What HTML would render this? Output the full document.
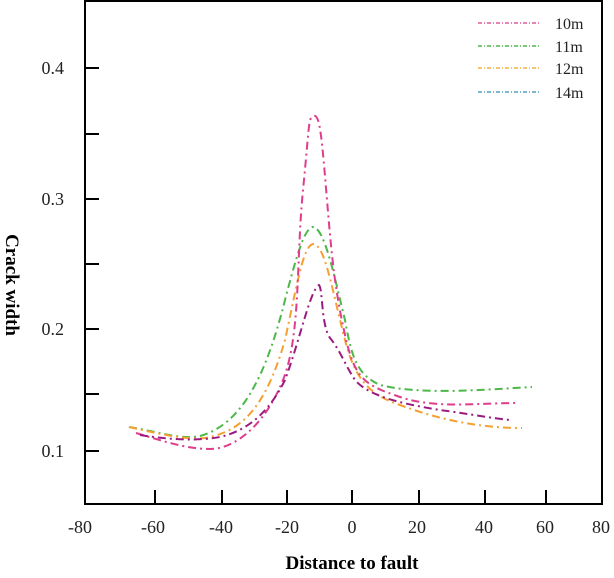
<!DOCTYPE html>
<html><head><style>body{margin:0;background:#fff}</style></head><body>
<svg width="614" height="573" xmlns="http://www.w3.org/2000/svg" font-family="Liberation Serif, serif">
<rect x="85" y="1" width="517" height="503" fill="none" stroke="#000" stroke-width="2"/>
<g stroke="#000" stroke-width="2">
<line x1="85" y1="68" x2="99" y2="68"/><line x1="85" y1="134" x2="99" y2="134"/>
<line x1="85" y1="199" x2="99" y2="199"/><line x1="85" y1="264" x2="99" y2="264"/>
<line x1="85" y1="329" x2="99" y2="329"/><line x1="85" y1="394" x2="99" y2="394"/>
<line x1="85" y1="451" x2="99" y2="451"/>
<line x1="155" y1="504" x2="155" y2="490"/><line x1="222" y1="504" x2="222" y2="490"/>
<line x1="287" y1="504" x2="287" y2="490"/><line x1="352" y1="504" x2="352" y2="490"/>
<line x1="419" y1="504" x2="419" y2="490"/><line x1="485" y1="504" x2="485" y2="490"/>
<line x1="546" y1="504" x2="546" y2="490"/>
</g>
<g font-size="18" text-anchor="end" fill="#222">
<text x="64" y="74">0.4</text><text x="64" y="205">0.3</text><text x="64" y="335">0.2</text><text x="64" y="457">0.1</text>
</g>
<g font-size="18" text-anchor="middle" fill="#222">
<text x="80" y="533">-80</text><text x="153" y="533">-60</text><text x="221" y="533">-40</text><text x="287" y="533">-20</text>
<text x="352" y="533">0</text><text x="417" y="533">20</text><text x="484" y="533">40</text><text x="545" y="533">60</text><text x="601" y="533">80</text>
</g>
<text x="352" y="569" font-size="19" font-weight="bold" text-anchor="middle">Distance to fault</text>
<text transform="translate(6,285) rotate(90)" font-size="19" font-weight="bold" text-anchor="middle">Crack width</text>
<g fill="none" stroke-width="2" stroke-dasharray="8,4,2,4">
<path stroke="#4cb848" d="M129,427 C160,432 180,440 200,436 C240,425 265,380 285,300 C298,250 305,228 313,227 C325,228 335,280 345,320 C352,360 358,375 380,385 C420,395 480,390 532,387"/>
<path stroke="#f5a030" d="M129,427 C160,434 185,440 205,438 C240,432 265,410 285,340 C297,285 303,246 313,244 C325,244 332,290 345,340 C355,380 370,395 400,405 C440,420 480,428 522,428"/>
<path stroke="#e03c8c" d="M136,433 C160,440 185,449 210,449 S265,425 283,380 S296,260 303,190 S308,118 314,116 S322,140 327,200 S335,290 345,335 S365,385 400,397 S480,403 516,403"/>
<path stroke="#9a1a80" d="M140,435 C170,440 200,441 220,437 C250,430 270,410 285,380 C300,340 310,290 319,285 C323,290 321,325 330,338 C340,350 345,365 355,380 C370,398 410,405 440,410 C470,414 490,418 510,420"/>
</g>
<g stroke-width="1.5" stroke-dasharray="4,2,1,2">
<line x1="478" y1="23" x2="540" y2="23" stroke="#e05c9c"/>
<line x1="478" y1="46" x2="540" y2="46" stroke="#4cb848"/>
<line x1="478" y1="68" x2="540" y2="68" stroke="#f5b040"/>
<line x1="478" y1="92" x2="540" y2="92" stroke="#50a0c0"/>
</g>
<g font-size="16" fill="#222">
<text x="555" y="29">10m</text><text x="555" y="52">11m</text><text x="555" y="74">12m</text><text x="555" y="98">14m</text>
</g>
</svg>
</body></html>
